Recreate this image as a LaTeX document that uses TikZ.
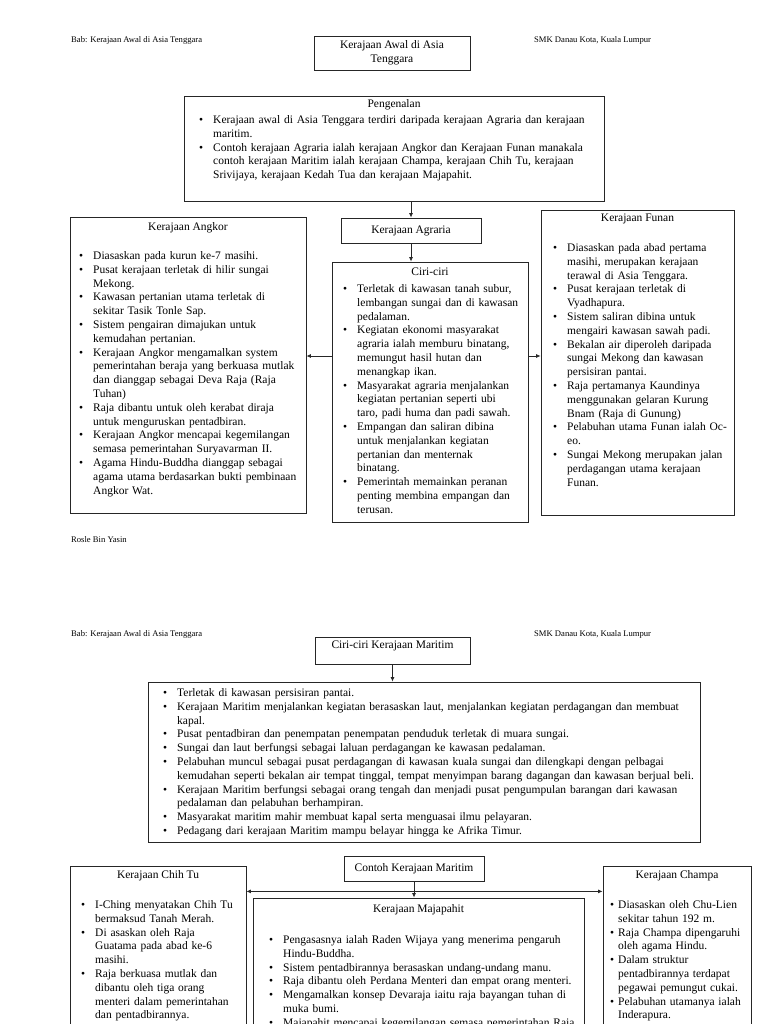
\documentclass[tikz,border=0pt]{standalone}
\usepackage{fontspec}
\setmainfont{Liberation Serif}
\usepackage{enumitem}
\usetikzlibrary{arrows.meta}
\newcommand{\bodyfont}{\fontsize{11.5}{13.8}\selectfont}
\newcommand{\pagefont}{\fontsize{8.6}{10}\selectfont}
\setlist[itemize]{label=\textbullet, topsep=0pt, partopsep=0pt, parsep=0pt, itemsep=0pt, labelsep=10pt}

\begin{document}
\begin{tikzpicture}[x=1pt, y=-1pt, font=\bodyfont,
	frame/.style={draw=black!85, line width=0.8pt, inner sep=0pt},
	head/.style={inner sep=0pt, align=center},
	list/.style={anchor=north west, inner sep=0pt, align=left},
	pagetxt/.style={anchor=west, inner sep=0pt, font=\pagefont},
	arr/.style={draw=black!85, line width=0.8pt, -{Latex[length=4.5pt,width=4pt]}},
	twoway/.style={draw=black!85, line width=0.8pt, {Latex[length=4.5pt,width=4pt]}-{Latex[length=4.5pt,width=4pt]}}]

	\clip (0,0) rectangle (768,1024);
	\fill[white] (0,0) rectangle (768,1024);

	% page 1
	\node[pagetxt] (bab1) at (71,40) {Bab: Kerajaan Awal di Asia Tenggara};
	\node[pagetxt] (smk1) at (534,40) {SMK Danau Kota, Kuala Lumpur};
	\node[frame, head, minimum width=156, minimum height=34] (title) at (392,53) {Kerajaan Awal di Asia\\Tenggara};

	\node[frame, minimum width=420, minimum height=105] (intro) at (394,148.5) {};
	\node[head] (introhead) at (394,105) {Pengenalan};
	\node[list, text width=420] (introtxt) at (193,109.5) {\begin{itemize}[leftmargin=20pt]
		\item Kerajaan awal di Asia Tenggara terdiri daripada kerajaan Agraria dan kerajaan\\ maritim.
		\item Contoh kerajaan Agraria ialah kerajaan Angkor dan Kerajaan Funan manakala\\ contoh kerajaan Maritim ialah kerajaan Champa, kerajaan Chih Tu, kerajaan\\ Srivijaya, kerajaan Kedah Tua dan kerajaan Majapahit.
	\end{itemize}};

	\node[frame, head, minimum width=140, minimum height=25] (agraria) at (411,230.5) {Kerajaan Agraria};

	\node[frame, minimum width=196, minimum height=260] (ciri) at (430,392) {};
	\node[head] (cirihead) at (430,272) {Ciri-ciri};
	\node[list, text width=210] (ciritxt) at (341,278.5) {\begin{itemize}[leftmargin=16pt]
		\item Terletak di kawasan tanah subur,\\ lembangan sungai dan di kawasan\\ pedalaman.
		\item Kegiatan ekonomi masyarakat\\ agraria ialah memburu binatang,\\ memungut hasil hutan dan\\ menangkap ikan.
		\item Masyarakat agraria menjalankan\\ kegiatan pertanian seperti ubi\\ taro, padi huma dan padi sawah.
		\item Empangan dan saliran dibina\\ untuk menjalankan kegiatan\\ pertanian dan menternak\\ binatang.
		\item Pemerintah memainkan peranan\\ penting membina empangan dan\\ terusan.
	\end{itemize}};

	\node[frame, minimum width=236, minimum height=296] (angkor) at (188,365) {};
	\node[head] (angkorhead) at (188,228) {Kerajaan Angkor};
	\node[list, text width=250] (angkortxt) at (80,245.5) {\begin{itemize}[leftmargin=13pt]
		\item Diasaskan pada kurun ke-7 masihi.
		\item Pusat kerajaan terletak di hilir sungai\\ Mekong.
		\item Kawasan pertanian utama terletak di\\ sekitar Tasik Tonle Sap.
		\item Sistem pengairan dimajukan untuk\\ kemudahan pertanian.
		\item Kerajaan Angkor mengamalkan system\\ pemerintahan beraja yang berkuasa mutlak\\ dan dianggap sebagai Deva Raja (Raja\\ Tuhan)
		\item Raja dibantu untuk oleh kerabat diraja\\ untuk menguruskan pentadbiran.
		\item Kerajaan Angkor mencapai kegemilangan\\ semasa pemerintahan Suryavarman II.
		\item Agama Hindu-Buddha dianggap sebagai\\ agama utama berdasarkan bukti pembinaan\\ Angkor Wat.
	\end{itemize}};

	\node[frame, minimum width=193, minimum height=305] (funan) at (637.5,362.5) {};
	\node[head] (funanhead) at (637.5,219) {Kerajaan Funan};
	\node[list, text width=210] (funantxt) at (553,237.5) {\begin{itemize}[leftmargin=14pt]
		\item Diasaskan pada abad pertama\\ masihi, merupakan kerajaan\\ terawal di Asia Tenggara.
		\item Pusat kerajaan terletak di\\ Vyadhapura.
		\item Sistem saliran dibina untuk\\ mengairi kawasan sawah padi.
		\item Bekalan air diperoleh daripada\\ sungai Mekong dan kawasan\\ persisiran pantai.
		\item Raja pertamanya Kaundinya\\ menggunakan gelaran Kurung\\ Bnam (Raja di Gunung)
		\item Pelabuhan utama Funan ialah Oc-\\ eo.
		\item Sungai Mekong merupakan jalan\\ perdagangan utama kerajaan\\ Funan.
	\end{itemize}};

	\node[pagetxt] (rosle) at (71,540) {Rosle Bin Yasin};

	\draw[arr] (intro.south -| agraria) -- (agraria.north);
	\draw[arr] (agraria.south) -- (agraria.south |- ciri.north);
	\draw[arr] ([yshift=36pt]ciri.west) -- ([yshift=36pt]ciri.west -| angkor.east);
	\draw[arr] ([yshift=36pt]ciri.east) -- ([yshift=36pt]ciri.east -| funan.west);

	% page 2
	\node[pagetxt] (bab2) at (71,634) {Bab: Kerajaan Awal di Asia Tenggara};
	\node[pagetxt] (smk2) at (534,634) {SMK Danau Kota, Kuala Lumpur};
	\node[frame, minimum width=155, minimum height=27] (mtitle) at (392.5,650.5) {};
	\node[head] (mtitlehead) at (392.5,646) {Ciri-ciri Kerajaan Maritim};

	\node[frame, minimum width=552, minimum height=160] (mlist) at (424,762) {};
	\node[list, text width=590] (mlisttxt) at (158,682.5) {\begin{itemize}[leftmargin=19pt]
		\item Terletak di kawasan persisiran pantai.
		\item Kerajaan Maritim menjalankan kegiatan berasaskan laut, menjalankan kegiatan perdagangan dan membuat\\ kapal.
		\item Pusat pentadbiran dan penempatan penempatan penduduk terletak di muara sungai.
		\item Sungai dan laut berfungsi sebagai laluan perdagangan ke kawasan pedalaman.
		\item Pelabuhan muncul sebagai pusat perdagangan di kawasan kuala sungai dan dilengkapi dengan pelbagai\\ kemudahan seperti bekalan air tempat tinggal, tempat menyimpan barang dagangan dan kawasan berjual beli.
		\item Kerajaan Maritim berfungsi sebagai orang tengah dan menjadi pusat pengumpulan barangan dari kawasan\\ pedalaman dan pelabuhan berhampiran.
		\item Masyarakat maritim mahir membuat kapal serta menguasai ilmu pelayaran.
		\item Pedagang dari kerajaan Maritim mampu belayar hingga ke Afrika Timur.
	\end{itemize}};

	\node[frame, head, minimum width=140, minimum height=25] (contoh) at (414,868.5) {Contoh Kerajaan Maritim};

	\node[frame, minimum width=176, minimum height=194] (chihtu) at (158,963) {};
	\node[head] (chihtuhead) at (158,876) {Kerajaan Chih Tu};
	\node[list, text width=190] (chihtutxt) at (79,894.5) {\begin{itemize}[leftmargin=16pt]
		\item I-Ching menyatakan Chih Tu\\ bermaksud Tanah Merah.
		\item Di asaskan oleh Raja\\ Guatama pada abad ke-6\\ masihi.
		\item Raja berkuasa mutlak dan\\ dibantu oleh tiga orang\\ menteri dalam pemerintahan\\ dan pentadbirannya.
	\end{itemize}};

	\node[frame, minimum width=331, minimum height=162] (majapahit) at (418.5,979) {};
	\node[head] (majapahithead) at (418.5,910) {Kerajaan Majapahit};
	\node[list, text width=350] (majapahittxt) at (265,929.5) {\begin{itemize}[leftmargin=18pt]
		\item Pengasasnya ialah Raden Wijaya yang menerima pengaruh\\ Hindu-Buddha.
		\item Sistem pentadbirannya berasaskan undang-undang manu.
		\item Raja dibantu oleh Perdana Menteri dan empat orang menteri.
		\item Mengamalkan konsep Devaraja iaitu raja bayangan tuhan di\\ muka bumi.
		\item Majapahit mencapai kegemilangan semasa pemerintahan Raja
	\end{itemize}};

	\node[frame, minimum width=148, minimum height=194] (champa) at (677,963) {};
	\node[head] (champahead) at (677,876) {Kerajaan Champa};
	\node[list, text width=170] (champatxt) at (607,894.5) {\begin{itemize}[leftmargin=11pt, labelsep=4pt]
		\item Diasaskan oleh Chu-Lien\\ sekitar tahun 192 m.
		\item Raja Champa dipengaruhi\\ oleh agama Hindu.
		\item Dalam struktur\\ pentadbirannya terdapat\\ pegawai pemungut cukai.
		\item Pelabuhan utamanya ialah\\ Inderapura.
	\end{itemize}};

	\draw[arr] (mtitle.south) -- (mtitle.south |- mlist.north);
	\draw[arr] (contoh.south) -- (contoh.south |- majapahit.north);
	\draw[twoway] ([yshift=-10pt]contoh.south -| chihtu.east) -- ([yshift=-10pt]contoh.south -| champa.west);
\end{tikzpicture}
\end{document}
